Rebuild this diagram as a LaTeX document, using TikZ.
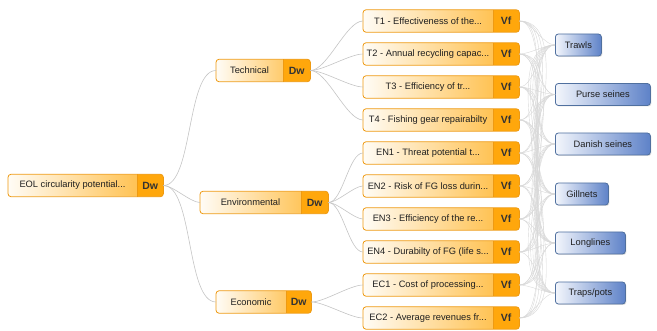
\documentclass[tikz,border=0pt]{standalone}
\usepackage{fontspec}
\setmainfont{Liberation Sans}
\usetikzlibrary{shadows,calc}
\definecolor{obord}{HTML}{EE9A12}
\definecolor{otag}{HTML}{FFA70C}
\definecolor{oleft}{HTML}{FFFCF6}
\definecolor{oright}{HTML}{FFB733}
\definecolor{bbord}{HTML}{50709F}
\definecolor{bleft}{HTML}{F3F6FC}
\definecolor{bright}{HTML}{5E82C8}
\definecolor{edgec}{HTML}{C4C4C4}
\definecolor{edgel}{HTML}{D8D8D8}
\tikzset{
  obody/.style={inner sep=0pt, minimum height=22pt, rounded corners=3pt, left color=oleft, right color=oright, anchor=west},
  oframe/.style={draw=obord, line width=0.8pt, rounded corners=3pt},
  otext/.style={font=\fontsize{9.3}{11}\selectfont, text=black!88, inner sep=0pt},
  ttext/.style={font=\fontsize{10.5}{12}\selectfont\bfseries, text=black!80, inner sep=0pt},
  bbox/.style={draw=bbord, line width=0.8pt, rounded corners=3pt, left color=bleft, right color=bright,
    minimum height=22pt, inner sep=0pt, font=\fontsize{9.3}{11}\selectfont, text=black!88, anchor=west,
    drop shadow={opacity=0.25, shadow xshift=1pt, shadow yshift=-1pt}},
  tedge/.style={draw=edgec, line width=0.6pt},
  ledge/.style={draw=edgel, line width=0.4pt},
}
\newcommand\orangebox[7]{%
  \node[obody, minimum width={(#3-#2)*1pt}] (#1) at (#2,#5) {};
  \coordinate (#1-s) at (#4,#5);
  \begin{scope}
    \clip[rounded corners=3pt] (#1.south west) rectangle (#1.north east);
    \fill[otag] (#1-s |- #1.north) rectangle (#1.south east);
  \end{scope}
  \draw[oframe] (#1.south west) rectangle (#1.north east);
  \draw[obord, line width=0.6pt] (#1-s |- #1.north) -- (#1-s |- #1.south);
  \node[otext] (#1-l) at ($(#1.west)!0.5!(#1-s)$) {#6};
  \node[ttext] (#1-t) at ($(#1-s)!0.5!(#1.east)$) {#7};
}
\begin{document}
\begin{tikzpicture}[x=1pt,y=-1pt]
\useasboundingbox (0,0) rectangle (657,331);
% root and criteria
\orangebox{eol}{8}{163}{137}{185.5}{EOL circularity potential...}{Dw}
\orangebox{tech}{216}{310}{283}{70.5}{Technical}{Dw}
\orangebox{env}{200}{328}{301}{202.5}{Environmental}{Dw}
\orangebox{eco}{216}{311}{286}{302}{Economic}{Dw}
% sub-criteria
\orangebox{t1}{363}{519}{493}{21}{T1 - Effectiveness of the...}{Vf}
\orangebox{t2}{363}{519}{493}{54}{T2 - Annual recycling capac...}{Vf}
\orangebox{t3}{363}{519}{493}{87}{T3 - Efficiency of tr...}{Vf}
\orangebox{t4}{363}{519}{493}{120}{T4 - Fishing gear repairabilty}{Vf}
\orangebox{en1}{363}{519}{493}{153}{EN1 - Threat potential t...}{Vf}
\orangebox{en2}{363}{519}{493}{186}{EN2 - Risk of FG loss durin...}{Vf}
\orangebox{en3}{363}{519}{493}{219}{EN3 - Efficiency of the re...}{Vf}
\orangebox{en4}{363}{519}{493}{252}{EN4 - Durabilty of FG (life s...}{Vf}
\orangebox{ec1}{363}{519}{493}{285}{EC1 - Cost of processing...}{Vf}
\orangebox{ec2}{363}{519}{493}{318}{EC2 - Average revenues fr...}{Vf}
% alternatives
\node[bbox, minimum width=46pt] (trawls) at (555,45) {Trawls};
\node[bbox, minimum width=95pt] (purse) at (555,94.5) {Purse seines};
\node[bbox, minimum width=95pt] (danish) at (555,144) {Danish seines};
\node[bbox, minimum width=53pt] (gill) at (555,194) {Gillnets};
\node[bbox, minimum width=70pt] (long) at (555,243) {Longlines};
\node[bbox, minimum width=70pt] (traps) at (555,293) {Traps/pots};
% edges
\foreach \c in {tech,env,eco}
  \draw[tedge] (eol.east) to[out=0,in=180,looseness=0.6] (\c.west);
\foreach \c in {t1,t2,t3,t4}
  \draw[tedge] (tech.east) to[out=0,in=180,looseness=0.6] (\c.west);
\foreach \c in {en1,en2,en3,en4}
  \draw[tedge] (env.east) to[out=0,in=180,looseness=0.6] (\c.west);
\foreach \c in {ec1,ec2}
  \draw[tedge] (eco.east) to[out=0,in=180,looseness=0.6] (\c.west);
\foreach \s in {t1,t2,t3,t4,en1,en2,en3,en4,ec1,ec2}
  \foreach \a in {trawls,purse,danish,gill,long,traps}
    \draw[ledge] (\s.east) to[out=0,in=180,looseness=0.7] (\a.west);
\end{tikzpicture}
\end{document}
